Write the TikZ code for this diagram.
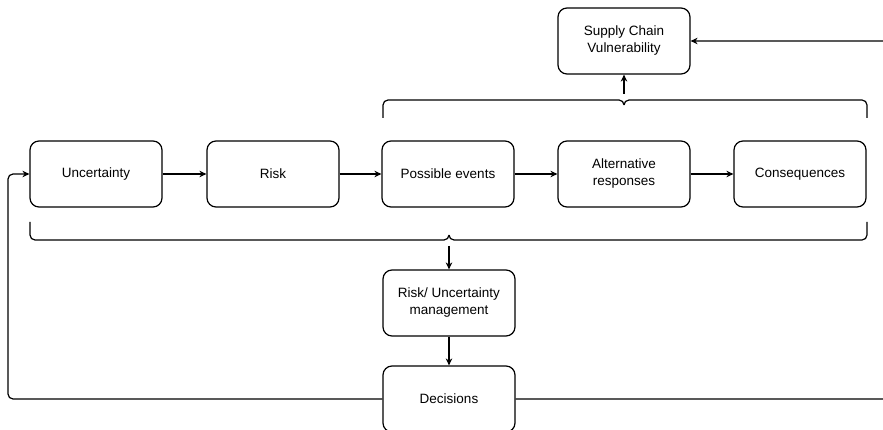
\documentclass[tikz,border=0pt]{standalone}
\usepackage{fontspec}
\setmainfont{Liberation Sans}
\usetikzlibrary{arrows.meta}

\tikzset{
    stagebox/.style = {draw = black, line width = 1.2pt, rounded corners = 9pt,
        minimum width = 132pt, minimum height = 66pt, align = center,
        font = \fontsize{13.5}{17}\selectfont},
    flow/.style = {-{Stealth[length = 7pt, width = 6.5pt]}, line width = 1.2pt},
    brace/.style = {line width = 1.2pt, rounded corners = 5pt}
}

\begin{document}
\begin{tikzpicture}[x = 1pt, y = -1pt]
        \useasboundingbox (0,0) rectangle (883,430);

        % main row
        \node[stagebox] (unc)       at (96,174)  {Uncertainty};
        \node[stagebox] (risk)      at (273,174) {Risk};
        \node[stagebox] (events)    at (448,174) {Possible events};
        \node[stagebox] (responses) at (624,174) {Alternative\\responses};
        \node[stagebox] (conseq)    at (800,174) {Consequences};

        % above and below the row
        \node[stagebox] (scv)  at (624,41)  {Supply Chain\\Vulnerability};
        \node[stagebox] (mgmt) at (449,303) {Risk/ Uncertainty\\management};
        \node[stagebox] (dec)  at (449,399) {Decisions};

        \draw[flow] (unc) -- (risk);
        \draw[flow] (risk) -- (events);
        \draw[flow] (events) -- (responses);
        \draw[flow] (responses) -- (conseq);

        % brace over the last three
        \coordinate (topcusp) at (624,94);
        \draw[brace] (383,118) -- (383,100) -- (619,100);
        \draw[brace] (867,118) -- (867,100) -- (629,100);
        \draw[line width = 1.2pt] (619,100) arc (-90:0:5) (629,100) arc (270:180:5);
        \draw[flow] (topcusp) -- (scv);

        % brace under the whole row
        \coordinate (botcusp) at (449,246);
        \draw[brace] (30,222) -- (30,240) -- (444,240);
        \draw[brace] (867,222) -- (867,240) -- (454,240);
        \draw[line width = 1.2pt] (444,240) arc (90:0:5) (454,240) arc (90:180:5);
        \draw[flow] (botcusp) -- (mgmt);

        \draw[flow] (mgmt) -- (dec);

        % feedback loops
        \draw[flow, rounded corners = 5pt] (dec.west) -- (8,399) -- (8,174) -- (unc.west);
        \draw[flow, rounded corners = 5pt] (dec.east) -- (889,399) -- (889,41) -- (scv.east);
    \end{tikzpicture}
\end{document}
